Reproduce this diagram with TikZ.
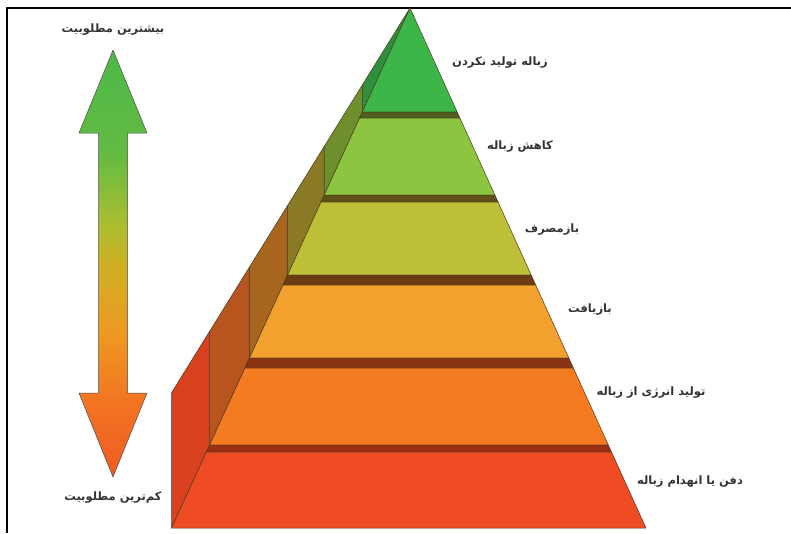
\documentclass[tikz,border=0pt]{standalone}
\usepackage{fontspec}
\newfontfamily\fa[Script=Arabic]{DejaVu Sans}
\TeXXeTstate=1
\usetikzlibrary{positioning}
\definecolor{txt}{HTML}{333333}
\definecolor{edgec}{HTML}{4A3A22}
\definecolor{arr1}{HTML}{4DB848}
\definecolor{arr2}{HTML}{62BB42}
\definecolor{arr3}{HTML}{A8BE32}
\definecolor{arr4}{HTML}{CFB024}
\definecolor{arr5}{HTML}{EE9A22}
\definecolor{arr6}{HTML}{F27522}
\definecolor{arr7}{HTML}{F05A22}
\pgfdeclareverticalshading{arrowshade}{100bp}{color(0bp)=(arr7); color(25bp)=(arr7);
  color(34bp)=(arr6); color(42bp)=(arr5); color(50bp)=(arr4); color(55bp)=(arr3);
  color(63bp)=(arr2); color(75bp)=(arr1); color(100bp)=(arr1)}
\definecolor{f1}{HTML}{3DB649}\definecolor{s1}{HTML}{2F8F3A}\definecolor{b1}{HTML}{2F6F2A}
\definecolor{f2}{HTML}{8CC540}\definecolor{s2}{HTML}{6F8F2E}\definecolor{b2}{HTML}{4D5E1E}
\definecolor{f3}{HTML}{BDBF36}\definecolor{s3}{HTML}{8A7A26}\definecolor{b3}{HTML}{5E5018}
\definecolor{f4}{HTML}{F2A12E}\definecolor{s4}{HTML}{A8651E}\definecolor{b4}{HTML}{6E3A12}
\definecolor{f5}{HTML}{F47B20}\definecolor{s5}{HTML}{B8541E}\definecolor{b5}{HTML}{8A3312}
\definecolor{f6}{HTML}{EF4C24}\definecolor{s6}{HTML}{D9401F}\definecolor{b6}{HTML}{9C2F14}

\begin{document}
\begin{tikzpicture}[x=1pt,y=-1pt,
  lbl/.style={font=\fa\bfseries\fontsize{11.5}{13}\selectfont, text=txt, inner sep=0pt},
  face/.style={draw=edgec, line width=0.5pt, line join=round}]
  \useasboundingbox (0,0) rectangle (791,533);
  \draw[line width=1.6pt] (7,533) -- (7,8) -- (791,8);
  % double arrow on the left
  \shadedraw[shading=arrowshade, draw=black!70, line width=0.5pt, line join=round]
    (113,50) -- (147,133) -- (127.5,133) -- (127.5,393) -- (147,393) -- (113,477)
    -- (79,393) -- (98.5,393) -- (98.5,133) -- (79,133) -- cycle;
  \node[lbl] (most) at (113,30) {\beginR بیشترین مطلوبیت\endR};
  \node[lbl] (least) at (113,498) {\beginR کم‌ترین مطلوبیت\endR};
  % pyramid layers: top / band bottom / bottom / colours
  \foreach \yt/\bd/\yb/\i in {8/8/112/1, 112/118/195/2, 195/202/275/3,
                               275/285/358/4, 358/368/445/5, 445/452/528/6}{
    \pgfmathsetmacro\xa{410-0.4586*(\yt-8)}
    \pgfmathsetmacro\xb{410-0.4586*(\bd-8)}
    \pgfmathsetmacro\xc{410-0.4586*(\yb-8)}
    \pgfmathsetmacro\xd{410+0.4538*(\yt-8)}
    \pgfmathsetmacro\xe{410+0.4538*(\bd-8)}
    \pgfmathsetmacro\xf{410+0.4538*(\yb-8)}
    \pgfmathsetmacro\ha{8+1.6134*(410-\xa)}
    \pgfmathsetmacro\hc{8+1.6134*(410-\xc)}
    \draw[face, fill=s\i] (\xc,\yb) -- (\xc,\hc) -- (\xa,\ha) -- (\xa,\yt) -- cycle;
    \draw[face, fill=b\i] (\xa,\yt) -- (\xd,\yt) -- (\xe,\bd) -- (\xb,\bd) -- cycle;
    \draw[face, fill=f\i] (\xb,\bd) -- (\xe,\bd) -- (\xf,\yb) -- (\xc,\yb) -- cycle;
  }
  % labels
  \node[lbl] (l1) at (500,63) {\beginR زباله تولید نکردن\endR};
  \node[lbl] (l2) at (520,147) {\beginR کاهش زباله\endR};
  \node[lbl] (l3) at (552,230) {\beginR بازمصرف\endR};
  \node[lbl] (l4) at (590,310) {\beginR بازیافت\endR};
  \node[lbl] (l5) at (651,393) {\beginR تولید انرژی از  زباله\endR};
  \node[lbl] (l6) at (690,482) {\beginR دفن یا انهدام زباله\endR};
\end{tikzpicture}
\end{document}
